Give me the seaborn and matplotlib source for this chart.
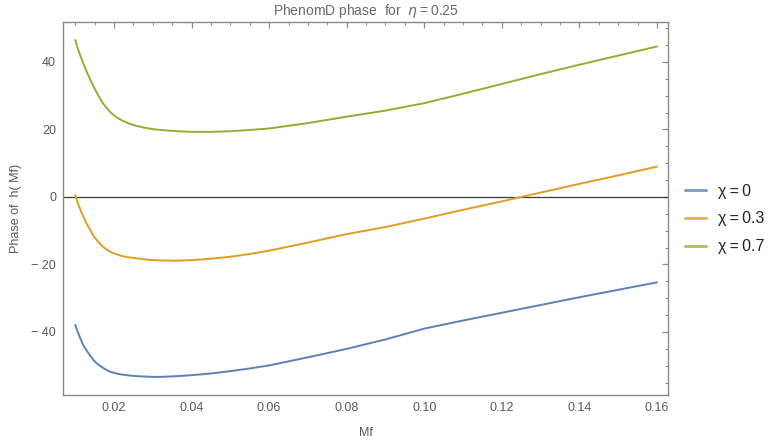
import numpy as np
import pandas as pd
import matplotlib
matplotlib.use("Agg")
import matplotlib.pyplot as plt
from matplotlib.ticker import MultipleLocator, FuncFormatter
import seaborn as sns

# Frequency samples (Mf) shared by all three spin curves
mf = [0.0100, 0.0105, 0.0110, 0.0115, 0.0120, 0.0125, 0.0130, 0.0140, 0.0150,
      0.0160, 0.0170, 0.0180, 0.0190, 0.0200, 0.0210, 0.0220, 0.0240, 0.0260,
      0.0280, 0.0300, 0.0320, 0.0360, 0.0400, 0.0450, 0.0500, 0.0550, 0.0600,
      0.0700, 0.0800, 0.0900, 0.1000, 0.1100, 0.1200, 0.1300, 0.1400, 0.1500,
      0.1600]

# Phase of h(Mf) for each spin value chi
phase_chi0 = [-37.9, -39.5, -41.0, -42.4, -43.7, -44.7, -45.6, -47.2, -48.7,
              -49.7, -50.5, -51.2, -51.8, -52.1, -52.4, -52.6, -52.9, -53.1,
              -53.2, -53.3, -53.3, -53.1, -52.8, -52.3, -51.6, -50.8, -49.9,
              -47.5, -45.0, -42.2, -39.0, -36.6, -34.3, -32.0, -29.7, -27.5,
              -25.3]
phase_chi03 = [0.6, -1.2, -2.8, -4.2, -5.6, -6.8, -8.0, -10.1, -12.0,
               -13.4, -14.6, -15.5, -16.2, -16.7, -17.1, -17.5, -17.9, -18.2,
               -18.5, -18.7, -18.8, -18.9, -18.7, -18.3, -17.7, -16.9, -15.9,
               -13.5, -11.0, -8.9, -6.4, -3.8, -1.3, 1.3, 3.9, 6.4,
               9.0]
phase_chi07 = [46.5, 44.6, 42.9, 41.3, 39.8, 38.4, 37.0, 34.5, 32.1,
               30.0, 28.0, 26.5, 25.2, 24.2, 23.4, 22.7, 21.7, 21.0,
               20.5, 20.1, 19.85, 19.5, 19.3, 19.3, 19.5, 19.85, 20.3,
               21.9, 23.8, 25.6, 27.8, 30.6, 33.5, 36.4, 39.2, 41.9,
               44.6]

series_labels = ["χ\u2009=\u20090", "χ\u2009=\u20090.3", "χ\u2009=\u20090.7"]
series_colors = ["#5E81B5", "#E19C24", "#8FB032"]

df = pd.concat([
    pd.DataFrame({"Mf": mf, "phase": vals, "chi": lab})
    for vals, lab in zip([phase_chi0, phase_chi03, phase_chi07], series_labels)
], ignore_index=True)

sns.set_style("white")
plt.rcParams["font.family"] = ["Liberation Sans", "DejaVu Sans"]

fig = plt.figure(figsize=(7.7, 4.41), dpi=100)
ax = fig.add_axes([63 / 770, 46 / 441, 605 / 770, 373 / 441])

# zero axis line
ax.axhline(0, color="#3a3a3a", lw=0.9, zorder=1)

sns.lineplot(data=df, x="Mf", y="phase", hue="chi", hue_order=series_labels,
             palette=series_colors, lw=1.4, ax=ax, zorder=3)
for ln in ax.get_lines():
    ln.set_solid_joinstyle("round")
    ln.set_solid_capstyle("round")

ax.set_xlim(0.00685, 0.16284)
ax.set_ylim(-58.67, 51.85)

frame_col = "#8a8a8a"
label_col = "#5a5a5a"
for sp in ax.spines.values():
    sp.set_color(frame_col)
    sp.set_linewidth(1.0)

ax.xaxis.set_major_locator(MultipleLocator(0.02))
ax.xaxis.set_minor_locator(MultipleLocator(0.005))
ax.yaxis.set_major_locator(MultipleLocator(20))
ax.yaxis.set_minor_locator(MultipleLocator(5))

ax.xaxis.set_major_formatter(FuncFormatter(lambda v, p: f"{v:.2f}"))
ax.yaxis.set_major_formatter(FuncFormatter(
    lambda v, p: f"\u2212 {abs(v):.0f}" if v < 0 else f"{v:.0f}"))

ax.tick_params(which="both", direction="in", top=True, right=True,
               colors=frame_col, labelcolor=label_col, labelsize=9)
ax.tick_params(which="major", length=4.5, width=0.9, pad=5)
ax.tick_params(which="minor", length=2.5, width=0.7)

ax.set_xlabel("Mf", color=label_col, fontsize=9)
ax.xaxis.set_label_coords(0.5, -0.085)
ax.set_ylabel("Phase of  h( Mf)", color=label_col, fontsize=9)
ax.yaxis.set_label_coords(-0.068, 0.5)
ax.set_title("PhenomD phase  for  $\\eta$\u2009=\u20090.25", color="#6a6a6a",
             fontsize=10, pad=5)

leg = ax.legend(loc="center left", bbox_to_anchor=(1.012, 0.472), frameon=False,
                fontsize=11.5, handlelength=1.35, handletextpad=0.7,
                labelspacing=0.8, borderaxespad=0.2, title=None)
for t in leg.get_texts():
    t.set_color("#222222")
for h in leg.get_lines():
    h.set_linewidth(2.2)
    h.set_alpha(0.75)

fig.savefig("out.png", dpi=100)
